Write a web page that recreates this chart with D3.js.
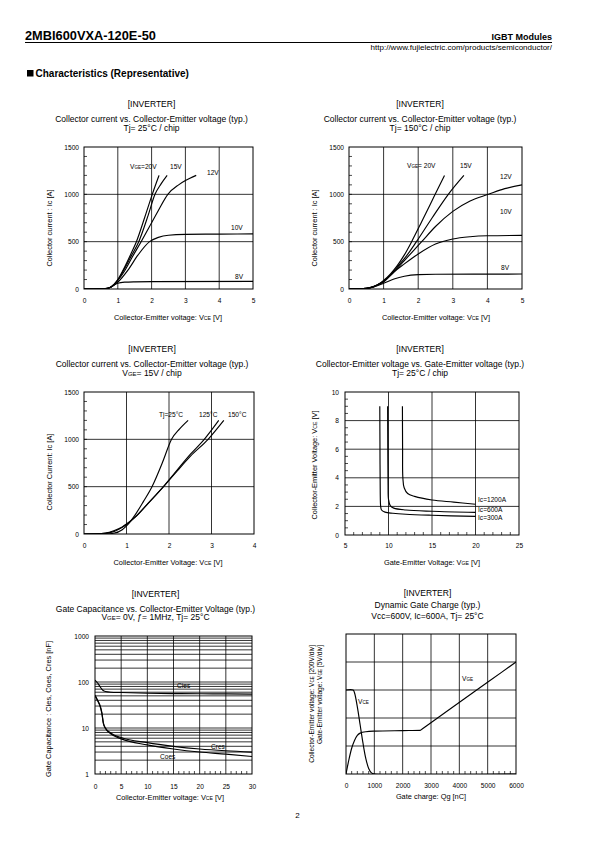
<!DOCTYPE html>
<html><head><meta charset="utf-8">
<script src="https://cdn.jsdelivr.net/npm/d3@7"></script>
<style>
body{margin:0;background:#fff}
svg{display:block}
text{font-family:"Liberation Sans",Arial,sans-serif;fill:#000}
</style>
</head><body><svg id="page" width="595" height="842"></svg>
<script>
// ---------------- DATA ----------------
// Chart 1: Ic vs VCE, Tj=25°C  [VCE (V), Ic (A)]
const c1_xTicks = [0,1,2,3,4,5];
const c1_yTicks = [0,500,1000,1500];
const t25_vge20 = [[0,0],[0.5,1],[0.7,8],[0.8,22],[0.9,55],[1.0,100],[1.2,230],[1.4,380],[1.55,500],[1.8,760],[2.02,1000],[2.22,1200]];
const t25_vge15 = [[0,0],[0.5,1],[0.7,8],[0.8,22],[0.9,52],[1.0,95],[1.2,215],[1.4,350],[1.62,500],[1.9,780],[2.1,1000],[2.28,1110],[2.46,1200]];
const t25_vge12 = [[0,0],[0.5,1],[0.7,8],[0.8,22],[0.9,50],[1.0,90],[1.2,190],[1.4,320],[1.69,500],[2.0,700],[2.2,830],[2.48,1000],[2.8,1100],[3.0,1145],[3.32,1200]];
const t25_vge10 = [[0,0],[0.5,1],[0.7,7],[0.8,20],[1.0,72],[1.3,200],[1.6,360],[1.94,500],[2.2,545],[2.5,568],[3.0,577],[4.0,580],[5.0,582]];
const t25_vge8  = [[0,0],[0.5,1],[0.7,6],[0.8,20],[0.9,45],[1.0,60],[1.2,72],[1.5,76],[2.0,78],[5.0,80]];
// Chart 2: Ic vs VCE, Tj=150°C
const t150_vge20 = [[0,0],[0.3,1],[0.5,6],[0.7,25],[0.9,62],[1.0,90],[1.2,160],[1.4,250],[1.6,360],[1.81,500],[2.1,710],[2.49,1000],[2.76,1200]];
const t150_vge15 = [[0,0],[0.3,1],[0.5,6],[0.7,24],[0.9,60],[1.0,85],[1.2,150],[1.4,235],[1.6,320],[1.95,500],[2.4,750],[2.87,1000],[3.32,1200]];
const t150_vge12 = [[0,0],[0.3,1],[0.5,6],[0.7,23],[0.9,58],[1.0,80],[1.3,180],[1.6,300],[2.1,500],[2.5,660],[3.0,820],[3.5,930],[4.03,1000],[4.5,1060],[5.0,1100]];
const t150_vge10 = [[0,0],[0.3,1],[0.5,6],[0.7,22],[0.9,55],[1.0,75],[1.3,180],[1.6,265],[2.0,370],[2.5,475],[3.0,528],[3.5,552],[4.0,562],[5.0,566]];
const t150_vge8  = [[0,0],[0.3,1],[0.5,5],[0.7,20],[1.0,60],[1.3,105],[1.6,135],[2.0,152],[2.5,156],[5.0,158]];
// Chart 3: Ic vs VCE, VGE=15V
const c3_xTicks = [0,1,2,3,4];
const vge15_tj25  = [[0,0],[0.5,1],[0.7,8],[0.9,45],[1.0,85],[1.2,200],[1.4,345],[1.6,500],[1.85,760],[2.06,1000],[2.25,1110],[2.45,1200]];
const vge15_tj125 = [[0,0],[0.3,1],[0.5,6],[0.7,25],[0.9,70],[1.0,100],[1.2,175],[1.5,320],[1.87,500],[2.2,680],[2.5,840],[2.83,1000],[3.17,1200]];
const vge15_tj150 = [[0,0],[0.3,2],[0.5,10],[0.7,35],[0.9,75],[1.0,105],[1.2,178],[1.5,318],[1.87,500],[2.2,670],[2.5,820],[2.92,1000],[3.29,1200]];
// Chart 4: VCE vs VGE, Tj=25°C  [VGE (V), VCE (V)]
const c4_xTicks = [5,10,15,20,25];
const c4_yTicks = [0,2,4,6,8,10];
const ic300  = [[9.0,9.0],[9.02,6.0],[9.05,3.0],[9.1,2.0],[9.2,1.75],[9.6,1.6],[10.5,1.52],[12,1.45],[15,1.38],[20,1.3]];
const ic600  = [[9.9,9.0],[9.92,6.0],[9.95,3.5],[10.0,2.5],[10.2,2.05],[10.6,1.88],[12,1.75],[15,1.66],[20,1.58]];
const ic1200 = [[11.6,9.0],[11.62,6.0],[11.65,4.0],[11.8,3.3],[12.2,2.9],[13,2.7],[15,2.45],[17.5,2.3],[20,2.15]];
// Chart 5: Capacitance vs VCE  [VCE (V), C (nF)]
const c5_xTicks = [0,5,10,15,20,25,30];
const c5_yTicks = [1,10,100,1000];
const cies = [[0,110],[0.5,95],[1,78],[1.5,66],[2,62],[3,60],[5,59],[10,57],[15,56],[20,55.5],[25,55],[30,54.5]];
const cres = [[0,52],[0.5,40],[1,30],[1.3,22],[1.6,13],[2,10],[3,7.8],[5,6.2],[10,4.8],[15,4.0],[20,3.5],[25,3.2],[30,3.0]];
const coes = [[0,50],[0.5,39],[1,29],[1.3,21],[1.6,12.5],[2,9.8],[3,7.5],[5,5.8],[10,4.3],[15,3.5],[20,3.0],[25,2.7],[30,2.4]];
// Chart 6: Dynamic gate charge  [Qg (nC), divisions]
const c6_xTicks = [0,1000,2000,3000,4000,5000,6000];
const vceQ = [[0,3.0],[250,3.0],[300,2.9],[400,2.4],[500,1.75],[600,1.1],[700,0.55],[800,0.2],[900,0.04],[1000,0],[6000,0]];
const vgeQ = [[0,0],[100,0.5],[200,0.92],[300,1.2],[400,1.38],[500,1.46],[700,1.51],[1000,1.53],[2000,1.55],[2620,1.56],[2700,1.618],[2800,1.69],[3500,2.195],[4500,2.917],[5500,3.639],[6000,4.0]];

// ---------------- DRAWING ----------------
const svg = d3.select('#page');
const FS_TICK = 6.6, FS_AX = 7.4, FS_TITLE = 8.5;

function rich(g, x, y, str, size, anchor, weight) {
  const t = g.append('text').attr('x', x).attr('y', y).attr('font-size', size)
    .attr('text-anchor', anchor || 'start');
  if (weight) t.attr('font-weight', weight);
  str.split('~').forEach((s, i) => {
    if (!s) return;
    t.append('tspan').attr('font-size', i % 2 ? size * 0.7 : size).text(s);
  });
  return t;
}
function richRot(g, x, y, str, size, anchor) {
  const gg = g.append('g').attr('transform', `translate(${x},${y}) rotate(-90)`);
  return rich(gg, 0, 0, str, size, anchor || 'middle');
}

function drawChart(c) {
  const g = svg.append('g');
  const x = d3.scaleLinear().domain(c.xd).range([c.L, c.R]);
  const y = (c.log ? d3.scaleLog() : d3.scaleLinear()).domain(c.yd).range([c.B, c.T]);
  const sw = 0.8;
  (c.xGrid || []).forEach(v => g.append('line').attr('x1', x(v)).attr('x2', x(v)).attr('y1', c.T).attr('y2', c.B)
    .attr('stroke', '#000').attr('stroke-width', sw));
  (c.yGrid || []).forEach(v => g.append('line').attr('y1', y(v)).attr('y2', y(v)).attr('x1', c.L).attr('x2', c.R)
    .attr('stroke', '#000').attr('stroke-width', sw));
  (c.xMinor || []).forEach(v => g.append('line').attr('x1', x(v)).attr('x2', x(v)).attr('y1', c.B).attr('y2', c.B - 3)
    .attr('stroke', '#000').attr('stroke-width', 0.7));
  (c.yMinor || []).forEach(v => g.append('line').attr('y1', y(v)).attr('y2', y(v)).attr('x1', c.L).attr('x2', c.L + 3)
    .attr('stroke', '#000').attr('stroke-width', 0.7));
  g.append('rect').attr('x', c.L).attr('y', c.T).attr('width', c.R - c.L).attr('height', c.B - c.T)
    .attr('fill', 'none').attr('stroke', '#000').attr('stroke-width', 1);

  const xa = d3.axisBottom(x).tickValues(c.xTicks).tickSize(0).tickPadding(c.xPad).tickFormat(d3.format('d'));
  g.append('g').attr('transform', `translate(0,${c.B})`).call(xa)
    .call(s => { s.select('.domain').remove(); s.attr('font-family', null).attr('font-size', null);
      s.selectAll('text').attr('font-size', FS_TICK); });
  if (c.yTicks) {
    const ya = d3.axisLeft(y).tickValues(c.yTicks).tickSize(0).tickPadding(c.yPad).tickFormat(d3.format('d'));
    g.append('g').attr('transform', `translate(${c.L},0)`).call(ya)
      .call(s => { s.select('.domain').remove(); s.attr('font-family', null).attr('font-size', null);
        s.selectAll('text').attr('font-size', FS_TICK); });
  }

  const clipId = 'clip' + c.id;
  g.append('clipPath').attr('id', clipId).append('rect')
    .attr('x', c.L).attr('y', c.T - 1).attr('width', c.R - c.L).attr('height', c.B - c.T + 1);
  c.series.forEach(s => {
    const line = d3.line().x(d => x(d[0])).y(d => y(d[1])).curve(s.curve || d3.curveMonotoneX);
    g.append('path').attr('d', line(s.data)).attr('fill', 'none').attr('stroke', '#000')
      .attr('stroke-width', 1.15).attr('clip-path', `url(#${clipId})`);
  });
  (c.labels || []).forEach(l => rich(g, l[0], l[1], l[2], FS_TICK, l[3] || 'start'));

  c.title.forEach((t, i) => rich(g, c.tcx, c.tby[i], t, FS_TITLE, 'middle'));
  rich(g, c.xtX, c.xtY, c.xTitle, FS_AX, 'middle');
  if (c.yTitle) richRot(g, c.ytX, c.ytY, c.yTitle, FS_AX, 'middle');
  return g;
}

// header
rich(svg, 25, 40, '2MBI600VXA-120E-50', 12.8, 'start', 'bold');
svg.append('line').attr('x1', 25).attr('x2', 552).attr('y1', 42.5).attr('y2', 42.5).attr('stroke', '#000').attr('stroke-width', 1);
rich(svg, 552, 40, 'IGBT Modules', 9, 'end', 'bold');
rich(svg, 552, 50, 'http://www.fujielectric.com/products/semiconductor/', 8, 'end');
svg.append('rect').attr('x', 27).attr('y', 70).attr('width', 6.5).attr('height', 6.5).attr('fill', '#000');
rich(svg, 35.5, 77, 'Characteristics (Representative)', 10, 'start', 'bold');
rich(svg, 297.5, 818, '2', 8, 'middle');

const curv = d3.curveCatmullRom.alpha(0.5);

// Chart 1
drawChart({
  id: 1, L: 84, R: 253, T: 147, B: 289, xd: [0, 5], yd: [0, 1500],
  xTicks: c1_xTicks, yTicks: c1_yTicks, xPad: 9, yPad: 5,
  xGrid: [1, 2, 3, 4], yGrid: [500, 1000], yMinor: d3.range(100, 1500, 100),
  series: [{data: t25_vge20}, {data: t25_vge15}, {data: t25_vge12}, {data: t25_vge10}, {data: t25_vge8}],
  labels: [[130, 169, 'V~GE~=20V'], [170, 169, '15V'], [207, 175, '12V'], [231, 230, '10V'], [235, 278.5, '8V']],
  title: ['[INVERTER]', 'Collector current vs. Collector-Emitter voltage (typ.)', 'Tj= 25°C / chip'],
  tcx: 151.5, tby: [106.5, 122, 130.5],
  xTitle: 'Collector-Emitter voltage: V~CE~ [V]', xtX: 168, xtY: 319.5,
  yTitle: 'Collector current : Ic [A]', ytX: 52, ytY: 228
});
// Chart 2
drawChart({
  id: 2, L: 349, R: 522, T: 147, B: 289, xd: [0, 5], yd: [0, 1500],
  xTicks: c1_xTicks, yTicks: c1_yTicks, xPad: 9, yPad: 5,
  xGrid: [1, 2, 3, 4], yGrid: [500, 1000], yMinor: d3.range(100, 1500, 100),
  series: [{data: t150_vge20}, {data: t150_vge15}, {data: t150_vge12}, {data: t150_vge10}, {data: t150_vge8}],
  labels: [[407, 168, 'V~GE~= 20V'], [460, 168, '15V'], [500, 178.5, '12V'], [500, 213.5, '10V'], [501, 270, '8V']],
  title: ['[INVERTER]', 'Collector current vs. Collector-Emitter voltage (typ.)', 'Tj= 150°C / chip'],
  tcx: 420, tby: [106.5, 122, 130.5],
  xTitle: 'Collector-Emitter voltage: V~CE~ [V]', xtX: 436, xtY: 319.5,
  yTitle: 'Collector current : Ic [A]', ytX: 317, ytY: 228
});
// Chart 3
drawChart({
  id: 3, L: 84, R: 254, T: 392, B: 534, xd: [0, 4], yd: [0, 1500],
  xTicks: c3_xTicks, yTicks: c1_yTicks, xPad: 9, yPad: 5,
  xGrid: [1, 2, 3], yGrid: [500, 1000], yMinor: d3.range(100, 1500, 100),
  series: [{data: vge15_tj25}, {data: vge15_tj125}, {data: vge15_tj150}],
  labels: [[159, 417, 'Tj=25°C'], [199, 417, '125°C'], [228, 417, '150°C']],
  title: ['[INVERTER]', 'Collector current vs. Collector-Emitter voltage (typ.)', 'V~GE~= 15V / chip'],
  tcx: 152, tby: [351.5, 367, 375.5],
  xTitle: 'Collector-Emitter Voltage: V~CE~ [V]', xtX: 168, xtY: 564.5,
  yTitle: 'Collector Current: Ic [A]', ytX: 52, ytY: 472
});
// Chart 4
drawChart({
  id: 4, L: 345, R: 519, T: 392, B: 535, xd: [5, 25], yd: [0, 10],
  xTicks: c4_xTicks, yTicks: c4_yTicks, xPad: 8, yPad: 6,
  xGrid: [10, 15, 20], yGrid: [2, 4, 6, 8],
  xMinor: d3.range(6, 25, 1).filter(v => v % 5), yMinor: d3.range(0.5, 10, 0.5).filter(v => v % 2),
  series: [{data: ic300, curve: curv}, {data: ic600, curve: curv}, {data: ic1200, curve: curv}],
  labels: [[478, 501.5, 'Ic=1200A'], [478, 511.5, 'Ic=600A'], [478, 520, 'Ic=300A']],
  title: ['[INVERTER]', 'Collector-Emitter voltage  vs. Gate-Emitter voltage (typ.)', 'Tj= 25°C / chip'],
  tcx: 420, tby: [351.5, 367, 375.5],
  xTitle: 'Gate-Emitter Voltage: V~GE~ [V]', xtX: 432, xtY: 564.5,
  yTitle: 'Collector-Emitter Voltage: V~CE~ [V]', ytX: 317, ytY: 465
});
// Chart 5
const logMinor = [];
[1, 10, 100].forEach(d => { for (let k = 2; k <= 9; k++) logMinor.push(d * k); });
drawChart({
  id: 5, L: 95, R: 252, T: 636, B: 774, xd: [0, 30], yd: [1, 1000], log: true,
  xTicks: c5_xTicks, yTicks: c5_yTicks, xPad: 10.5, yPad: 6,
  xGrid: [5, 10, 15, 20, 25], yGrid: [10, 100].concat(logMinor),
  xMinor: d3.range(1, 30, 1).filter(v => v % 5),
  series: [{data: cies}, {data: cres}, {data: coes}],
  labels: [[177, 687.5, 'Cies'], [211, 749, 'Cres'], [160, 759, 'Coes']],
  title: ['[INVERTER]', 'Gate Capacitance vs. Collector-Emitter Voltage  (typ.)', 'V~GE~= 0V, ƒ= 1MHz, Tj= 25°C'],
  tcx: 155.5, tby: [596.5, 611.5, 620],
  xTitle: 'Collector-Emitter voltage: V~CE~ [V]', xtX: 170, xtY: 800,
  yTitle: 'Gate Capacitance : Cies, Coes, Cres [nF]', ytX: 51, ytY: 709
});
// Chart 6
const g6 = drawChart({
  id: 6, L: 346, R: 516, T: 634, B: 774, xd: [0, 6000], yd: [0, 5],
  xTicks: c6_xTicks, yTicks: null, xPad: 9, yPad: 6,
  xGrid: [1000, 2000, 3000, 4000, 5000], yGrid: [1, 2, 3, 4],
  xMinor: d3.range(200, 6000, 200).filter(v => v % 1000),
  series: [{data: vceQ, curve: curv}, {data: vgeQ, curve: d3.curveMonotoneX}],
  labels: [[462, 680.5, 'V~GE~'], [358, 703.5, 'V~CE~']],
  title: ['[INVERTER]', 'Dynamic Gate Charge (typ.)', 'Vcc=600V, Ic=600A, Tj= 25°C'],
  tcx: 427.5, tby: [596, 607.5, 618.5],
  xTitle: 'Gate charge: Qg [nC]', xtX: 431, xtY: 798.5,
  yTitle: null
});
richRot(g6, 313.5, 645, 'Collector-Emitter voltage: V~CE~ [200V/div]', 6.6, 'end');
richRot(g6, 321.5, 645, 'Gate-Emitter voltage:  V~GE~ [5V/div]', 6.6, 'end');
</script>
</body></html>
